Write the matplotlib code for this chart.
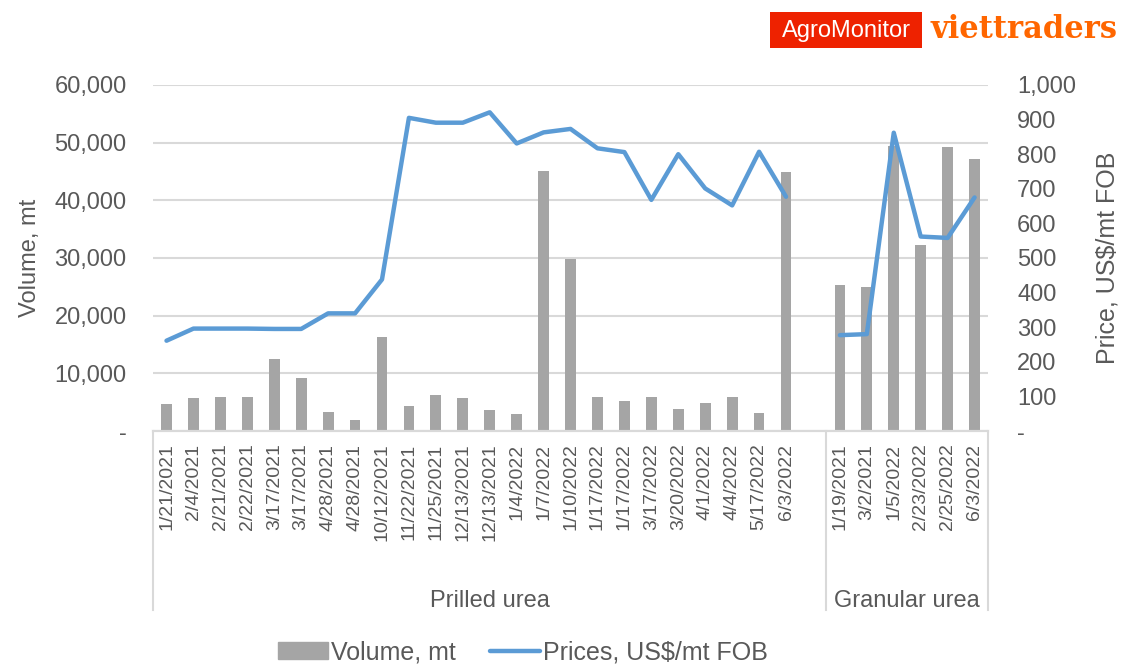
import numpy as np
import matplotlib
matplotlib.use('Agg')
import matplotlib.pyplot as plt
from matplotlib.patches import Patch, Rectangle
from matplotlib.lines import Line2D

plt.rcParams['font.family'] = ['Liberation Sans', 'DejaVu Sans']

# Categories (empty slot between the two groups as in the source chart)
prilled_dates = ['1/21/2021', '2/4/2021', '2/21/2021', '2/22/2021', '3/17/2021',
                 '3/17/2021', '4/28/2021', '4/28/2021', '10/12/2021', '11/22/2021',
                 '11/25/2021', '12/13/2021', '12/13/2021', '1/4/2022', '1/7/2022',
                 '1/10/2022', '1/17/2022', '1/17/2022', '3/17/2022', '3/20/2022',
                 '4/1/2022', '4/4/2022', '5/17/2022', '6/3/2022', '']
granular_dates = ['1/19/2021', '3/2/2021', '1/5/2022', '2/23/2022', '2/25/2022', '6/3/2022']

prilled_volume = [4600, 5700, 5900, 5900, 12500, 9200, 3300, 1850, 16350, 4300,
                  6200, 5700, 3600, 2950, 45100, 29900, 5900, 5150, 5900, 3900,
                  4850, 5900, 3050, 44950, np.nan]
granular_volume = [25300, 24950, 49500, 32300, 49300, 47200]

prilled_price = [261, 296, 296, 296, 295, 295, 340, 340, 438, 905,
                 891, 891, 921, 831, 863, 873, 817, 806, 668, 800,
                 701, 652, 807, 677, np.nan]
granular_price = [277, 280, 862, 562, 558, 675]

groups = ['Prilled urea', 'Granular urea']

labels = prilled_dates + granular_dates
volume = prilled_volume + granular_volume
price = prilled_price + granular_price
x = np.arange(len(labels))

txt = '#595959'
grid = '#D9D9D9'

fig = plt.figure(figsize=(11.22, 6.67), dpi=100)
ax = fig.add_axes([0.1364, 0.3538, 0.7442, 0.5188])
ax2 = ax.twinx()

ax.bar(x, volume, width=0.4, color='#A5A5A5', zorder=2)
ax2.plot(x, price, color='#5B9BD5', lw=3.2, solid_capstyle='round', solid_joinstyle='round')

ax.set_xlim(-0.5, len(labels) - 0.5)
ax.set_ylim(0, 60000)
ax2.set_ylim(0, 1000)
ax.set_yticks(np.arange(0, 60001, 10000))
ax.set_yticklabels(['-'] + ['{:,}'.format(v) for v in range(10000, 60001, 10000)])
ax2.set_yticks(np.arange(0, 1001, 100))
ax2.set_yticklabels(['-'] + ['{:,}'.format(v) for v in range(100, 1001, 100)])
ax.yaxis.grid(True, color=grid, lw=1.5, zorder=0)
ax.set_axisbelow(True)

for a in (ax, ax2):
    for s in ['top', 'left', 'right']:
        a.spines[s].set_visible(False)
    a.spines['bottom'].set_color(grid)
    a.spines['bottom'].set_linewidth(1.5)
    a.tick_params(axis='y', length=0, labelsize=17, colors=txt)

ax.tick_params(axis='y', pad=19)
ax2.tick_params(axis='y', pad=21)
ax.set_xticks(x)
ax.set_xticklabels(labels, rotation=90, fontsize=14, color=txt)
ax.tick_params(axis='x', length=0, pad=9)

ax.set_ylabel('Volume, mt', fontsize=17, color=txt, labelpad=10)
ax2.set_ylabel('Price, US$/mt FOB', fontsize=18, color=txt, labelpad=14)

# group separators and labels
n1 = len(prilled_dates)
trans = ax.get_xaxis_transform()
for xb in [-0.5, n1 - 0.5, len(labels) - 0.5]:
    ax.plot([xb, xb], [0, -0.517], transform=trans, color=grid, lw=1.5, clip_on=False)
ax.text((n1 - 1) / 2, -0.49, groups[0], transform=trans, ha='center', va='center',
        fontsize=17, color=txt)
ax.text(n1 + (len(granular_dates) - 1) / 2, -0.49, groups[1], transform=trans,
        ha='center', va='center', fontsize=17, color=txt)

handles = [Patch(color='#A5A5A5'), Line2D([0], [0], color='#5B9BD5', lw=3.2, solid_capstyle='round')]
fig.legend(handles, ['Volume, mt', 'Prices, US$/mt FOB'], loc='center',
           bbox_to_anchor=(0.466, 0.022), ncol=2, frameon=False, fontsize=18,
           labelcolor=txt, handlelength=2.0, handletextpad=0.1, columnspacing=1.4)

# logos
fig.patches.append(Rectangle((770 / 1122, 1 - 48 / 667), 152 / 1122, 36 / 667,
                             transform=fig.transFigure, fc='#EE2200', ec='none'))
fig.text(846 / 1122, 1 - 31 / 667, 'AgroMonitor', fontsize=17, color='white',
         ha='center', va='center')
fig.text(930 / 1122, 1 - 30 / 667, 'viettraders', fontsize=22, color='#FF6600',
         ha='left', va='center', family='DejaVu Serif', weight='bold')

fig.savefig('out.png', dpi=100)
